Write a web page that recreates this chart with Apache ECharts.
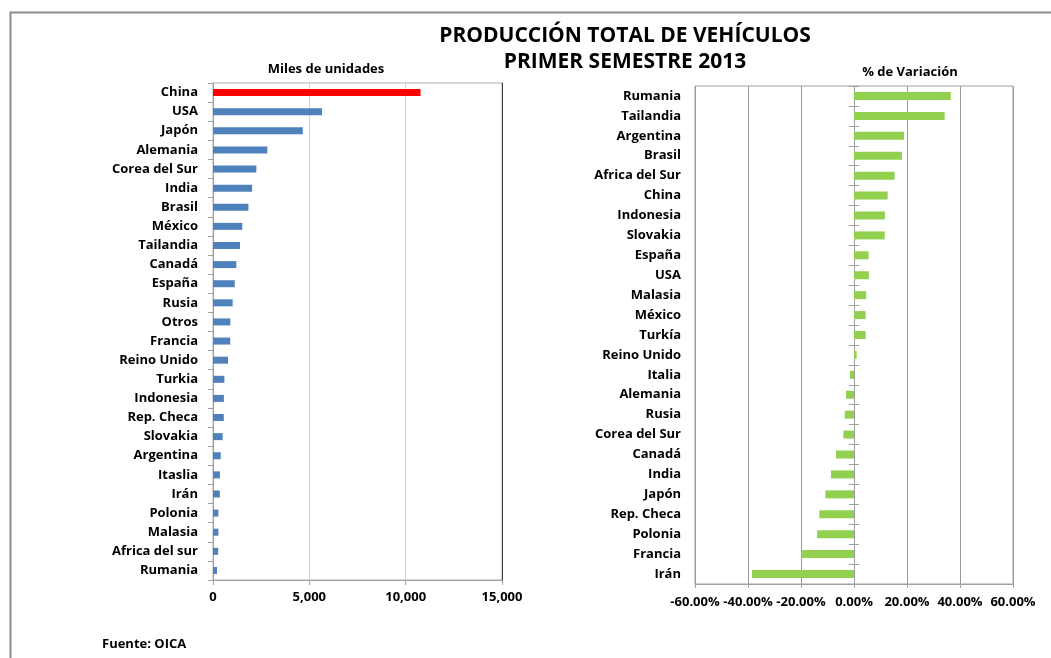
<!DOCTYPE html>
<html>
<head>
<meta charset="utf-8">
<script src="https://cdn.jsdelivr.net/npm/echarts@6/dist/echarts.min.js"></script>
<style>
  html, body { margin: 0; padding: 0; background: #fff; }
  #chart { width: 1051px; height: 658px; }
</style>
</head>
<body>
<div id="chart"></div>
<script>
// produccion (miles de unidades)
var prodCountries = ['China', 'USA', 'Japón', 'Alemania', 'Corea del Sur', 'India', 'Brasil', 'México',
  'Tailandia', 'Canadá', 'España', 'Rusia', 'Otros', 'Francia', 'Reino Unido', 'Turkia', 'Indonesia',
  'Rep. Checa', 'Slovakia', 'Argentina', 'Itaslia', 'Irán', 'Polonia', 'Malasia', 'Africa del sur', 'Rumania'];
var prodValues = [10770, 5660, 4660, 2820, 2250, 2030, 1840, 1520, 1400, 1210, 1130, 1020, 900, 895,
  780, 590, 565, 560, 500, 400, 360, 355, 280, 280, 270, 210];
var prodTicks = [0, 5000, 10000, 15000];
var highlight = 'China';

// % de variacion
var varCountries = ['Rumania', 'Tailandia', 'Argentina', 'Brasil', 'Africa del Sur', 'China', 'Indonesia',
  'Slovakia', 'España', 'USA', 'Malasia', 'México', 'Turkía', 'Reino Unido', 'Italia', 'Alemania', 'Rusia',
  'Corea del Sur', 'Canadá', 'India', 'Japón', 'Rep. Checa', 'Polonia', 'Francia', 'Irán'];
var varValues = [36.5, 34.2, 18.9, 18.1, 15.3, 12.7, 11.7, 11.6, 5.5, 5.6, 4.6, 4.4, 4.4, 1.0, -1.5,
  -3.0, -3.5, -4.0, -6.8, -8.7, -10.8, -13.1, -13.9, -20.0, -38.5];
var varTicks = [-60, -40, -20, 0, 20, 40, 60];

var font = 'Open Sans';
var chart = echarts.init(document.getElementById('chart'));

var labelStyle = { fontFamily: font, fontWeight: 'bold', fontSize: 13, color: '#000' };

chart.setOption({
  animation: false,
  title: [
    {
      text: 'PRODUCCIÓN TOTAL DE VEHÍCULOS\nPRIMER SEMESTRE 2013',
      left: 620, top: 18, textAlign: 'center',
      textStyle: { fontFamily: font, fontWeight: 'bold', fontSize: 21, lineHeight: 26, color: '#000' }
    },
    {
      text: 'Miles de unidades', left: 321, top: 58, textAlign: 'center',
      textStyle: { fontFamily: font, fontWeight: 'bold', fontSize: 13, color: '#000' }
    },
    {
      text: '% de Variación', left: 905, top: 61, textAlign: 'center',
      textStyle: { fontFamily: font, fontWeight: 'bold', fontSize: 13, color: '#000' }
    },
    {
      text: 'Fuente: OICA', left: 97, top: 633,
      textStyle: { fontFamily: font, fontWeight: 'bold', fontSize: 13, color: '#000' }
    }
  ],
  graphic: [
    {
      type: 'rect', left: 8, top: 10,
      shape: { width: 1200, height: 800 },
      style: { fill: 'none', stroke: '#8c8c8c', lineWidth: 2 }
    }
  ],
  grid: [
    { left: 213, top: 83, width: 289, height: 497, show: true, borderColor: '#b0b0b0', borderWidth: 1 },
    { left: 695, top: 86, width: 318, height: 498, show: true, borderColor: '#a0a0a0', borderWidth: 1 }
  ],
  xAxis: [
    {
      gridIndex: 0, type: 'value',
      min: prodTicks[0], max: prodTicks[prodTicks.length - 1], interval: prodTicks[1] - prodTicks[0],
      axisLine: { show: true, lineStyle: { color: '#a0a0a0' } },
      axisTick: { show: true, length: 5, lineStyle: { color: '#a0a0a0' } },
      splitLine: { show: true, lineStyle: { color: '#d0d0d0' } },
      axisLabel: Object.assign({}, labelStyle, {
        margin: 11, hideOverlap: false,
        formatter: function (v) { return v.toString().replace(/\B(?=(\d{3})+(?!\d))/g, ','); }
      })
    },
    {
      gridIndex: 1, type: 'value',
      min: varTicks[0], max: varTicks[varTicks.length - 1], interval: varTicks[1] - varTicks[0],
      axisLine: { show: true, onZero: false, lineStyle: { color: '#a0a0a0' } },
      axisTick: { show: true, length: 4, lineStyle: { color: '#a0a0a0' } },
      splitLine: { show: true, lineStyle: { color: '#9a9a9a' } },
      axisLabel: Object.assign({}, labelStyle, {
        margin: 12, hideOverlap: false,
        formatter: function (v) { return v.toFixed(2) + '%'; }
      })
    }
  ],
  yAxis: [
    {
      gridIndex: 0, type: 'category', data: prodCountries, inverse: true,
      axisLine: { show: true, lineStyle: { color: '#a0a0a0' } },
      axisTick: { show: true, length: 5, lineStyle: { color: '#a0a0a0' } },
      axisLabel: Object.assign({}, labelStyle, { margin: 15, interval: 0 })
    },
    {
      // borde derecho oscuro
      gridIndex: 0, type: 'category', data: prodCountries, inverse: true, position: 'right',
      axisLine: { show: true, lineStyle: { color: '#404040' } },
      axisTick: { show: false }, axisLabel: { show: false }
    },
    {
      gridIndex: 1, type: 'category', data: varCountries, inverse: true,
      axisLine: { show: false, onZero: false },
      axisTick: { show: false },
      axisLabel: Object.assign({}, labelStyle, { margin: 14, interval: 0 })
    },
    {
      gridIndex: 1, type: 'category', data: varCountries, inverse: true,
      axisLine: { show: true, onZero: true, onZeroAxisIndex: 1, lineStyle: { color: '#a0a0a0' } },
      axisTick: { show: true, length: 5, lineStyle: { color: '#a0a0a0' } },
      axisLabel: { show: false }
    },
    {
      gridIndex: 1, type: 'category', data: varCountries, inverse: true,
      axisLine: { show: false, onZero: true, onZeroAxisIndex: 1 },
      axisTick: { show: true, inside: true, length: 5, lineStyle: { color: '#a0a0a0' } },
      axisLabel: { show: false }
    }
  ],
  series: [
    {
      type: 'bar', xAxisIndex: 0, yAxisIndex: 0, barWidth: 7,
      itemStyle: { color: '#4F81BD' },
      data: prodValues.map(function (v, i) {
        return prodCountries[i] === highlight ? { value: v, itemStyle: { color: '#FF0000' } } : v;
      })
    },
    {
      type: 'bar', xAxisIndex: 1, yAxisIndex: 2, barWidth: 8,
      itemStyle: { color: '#92D050' },
      data: varValues
    }
  ]
});
</script>
</body>
</html>
